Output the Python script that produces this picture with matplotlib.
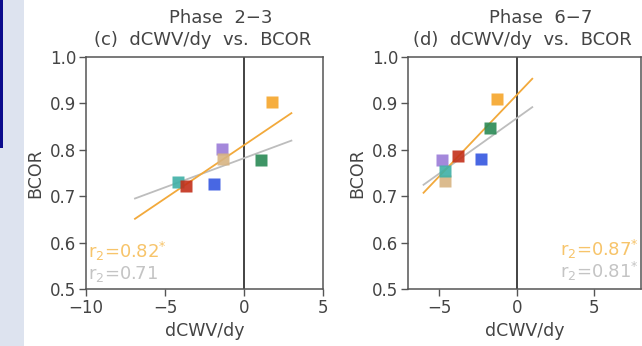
import matplotlib
matplotlib.use("Agg")
import matplotlib.pyplot as plt
import numpy as np
from matplotlib.patches import Rectangle

# Square colours (same model order in both panels)
colors = ["#f5a52a", "#9a7bd8", "#d8b482", "#2a8a55", "#3456e0", "#3fb0a6", "#c3301a"]

# Phase 2-3 : dCWV/dy vs BCOR
x_23 = [1.8, -1.4, -1.35, 1.1, -1.9, -4.2, -3.7]
y_23 = [0.903, 0.801, 0.781, 0.779, 0.727, 0.730, 0.723]

# Phase 6-7
x_67 = [-1.25, -4.8, -4.6, -1.75, -2.3, -4.65, -3.75]
y_67 = [0.910, 0.777, 0.733, 0.847, 0.781, 0.754, 0.786]

# regression lines: (slope, intercept, x start, x end)
fit_23_orange = (0.0230, 0.810, -6.9, 3.0)
fit_23_gray = (0.0126, 0.782, -6.9, 3.0)
fit_67_orange = (0.0351, 0.918, -6.0, 1.0)
fit_67_gray = (0.0239, 0.868, -6.0, 1.0)

r_23 = ("0.82", "0.71")
r_67 = ("0.87", "0.81")

orange_line = "#f2a93b"
gray_line = "#bdbdbd"
orange_txt = "#f7c46a"
gray_txt = "#c4c4c4"
txt = "#444444"

fig = plt.figure(figsize=(6.42, 3.46), dpi=100)
fig.patch.set_facecolor("white")

# slide background strip on the left
fig.add_artist(Rectangle((0, 0), 24 / 642, 1, transform=fig.transFigure,
                         facecolor="#dde3ef", edgecolor="none", zorder=0))
fig.add_artist(Rectangle((0, 1 - 148 / 346), 3 / 642, 148 / 346, transform=fig.transFigure,
                         facecolor="#0b0b8c", edgecolor="none", zorder=1))

ax1 = fig.add_axes([86 / 642, 1 - 289 / 346, 237 / 642, 232 / 346])
ax2 = fig.add_axes([408 / 642, 1 - 289 / 346, 233 / 642, 232 / 346])


def draw_line(ax, fit, color):
    m, b, x0, x1 = fit
    xs = np.array([x0, x1])
    ax.plot(xs, m * xs + b, color=color, lw=1.3, zorder=2)


def style(ax, xlim, xticks, phase, title):
    ax.set_xlim(*xlim)
    ax.set_ylim(0.5, 1.0)
    ax.set_xticks(xticks)
    ax.set_xticklabels([str(t).replace("-", "\u2212") for t in xticks])
    ax.set_yticks([0.5, 0.6, 0.7, 0.8, 0.9, 1.0])
    ax.set_yticklabels(["0.5", "0.6", "0.7", "0.8", "0.9", "1.0"])
    ax.tick_params(direction="out", length=5, width=1, color="#555555",
                   labelsize=12, labelcolor=txt, pad=2)
    for s in ax.spines.values():
        s.set_color("#555555")
        s.set_linewidth(1.1)
    ax.axvline(0, color="#222222", lw=1.2, zorder=1)
    ax.set_xlabel("dCWV/dy", fontsize=12.5, color=txt, labelpad=4)
    ax.set_ylabel("BCOR", fontsize=12.5, color=txt, labelpad=4)
    ax.text(0.57, 1.168, phase, transform=ax.transAxes, ha="center", va="center",
            fontsize=13, color=txt)
    ax.text(0.49, 1.073, title, transform=ax.transAxes, ha="center", va="center",
            fontsize=13, color=txt)


# left panel
draw_line(ax1, fit_23_gray, gray_line)
draw_line(ax1, fit_23_orange, orange_line)
for xv, yv, c in zip(x_23, y_23, colors):
    ax1.plot(xv, yv, marker="s", ms=9, color=c, mec="none", alpha=0.9, zorder=3)
style(ax1, (-10, 5), [-10, -5, 0, 5], "Phase  2\u22123", "(c)  dCWV/dy  vs.  BCOR")
ax1.text(0.01, 0.16, "r$_2$=" + r_23[0] + "$^{*}$", transform=ax1.transAxes,
         fontsize=13, color=orange_txt, ha="left", va="center")
ax1.text(0.01, 0.065, "r$_2$=" + r_23[1], transform=ax1.transAxes,
         fontsize=13, color=gray_txt, ha="left", va="center")

# right panel
draw_line(ax2, fit_67_gray, gray_line)
draw_line(ax2, fit_67_orange, orange_line)
for xv, yv, c in zip(x_67, y_67, colors):
    ax2.plot(xv, yv, marker="s", ms=9, color=c, mec="none", alpha=0.9, zorder=3)
style(ax2, (-7, 8), [-5, 0, 5], "Phase  6\u22127", "(d)  dCWV/dy  vs.  BCOR")
ax2.text(0.99, 0.17, "r$_2$=" + r_67[0] + "$^{*}$", transform=ax2.transAxes,
         fontsize=13, color=orange_txt, ha="right", va="center")
ax2.text(0.99, 0.075, "r$_2$=" + r_67[1] + "$^{*}$", transform=ax2.transAxes,
         fontsize=13, color=gray_txt, ha="right", va="center")

fig.savefig("out.png", dpi=100)
